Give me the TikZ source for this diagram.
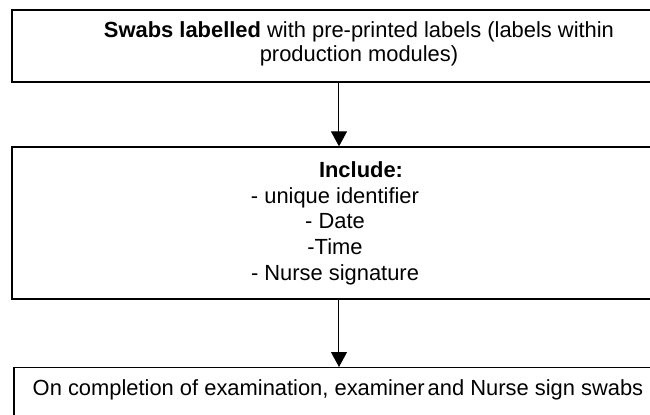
\documentclass[tikz,border=0pt]{standalone}
\usepackage{fontspec}
\setmainfont{Liberation Sans}
\usetikzlibrary{arrows.meta,positioning}
\tikzset{
  stepbox/.style={draw,rectangle,line width=0.65pt,inner sep=0pt},
  steptext/.style={inner sep=0pt,align=center},
  flow/.style={-{Triangle[width=8pt,length=7.5pt]},line width=0.5pt}
}

\begin{document}
\begin{tikzpicture}[x=0.5pt,y=-0.5pt,font=\fontsize{10.95}{12.2}\selectfont]
  \useasboundingbox (0,0) rectangle (650,414);
  \clip (0,0) rectangle (650,414);

  % boxes (right edges run past the page)
  \node[stepbox,minimum width=347pt,minimum height=36pt] (labelled) at (359,46) {};
  \node[stepbox,minimum width=347pt,minimum height=76pt] (fields) at (359,223) {};
  \node[stepbox,anchor=north,minimum width=324pt,minimum height=50pt] (signing) at (338,367) {};

  % texts
  \node[steptext] (labelledtxt) at (359,44)
    {\textbf{Swabs labelled} with pre-printed labels (labels within\\production modules)};
  \node[steptext,text depth=0pt] (fieldstxt) at (335,221)
    {\hspace*{26pt}\textbf{Include:}\\[0.7pt]- unique identifier\\[0.7pt]- Date\\[0.7pt]-Time\\[0.7pt]- Nurse signature};
  \node[steptext] (signingtxt) at (338,390)
    {On completion of examination, examiner\hspace{-1.5pt} and Nurse sign swabs};

  % connectors
  \coordinate (axis) at (339,0);
  \draw[flow] (labelled.south -| axis) -- (fields.north -| axis);
  \draw[flow] (fields.south -| axis) -- (signing.north -| axis);
\end{tikzpicture}
\end{document}
